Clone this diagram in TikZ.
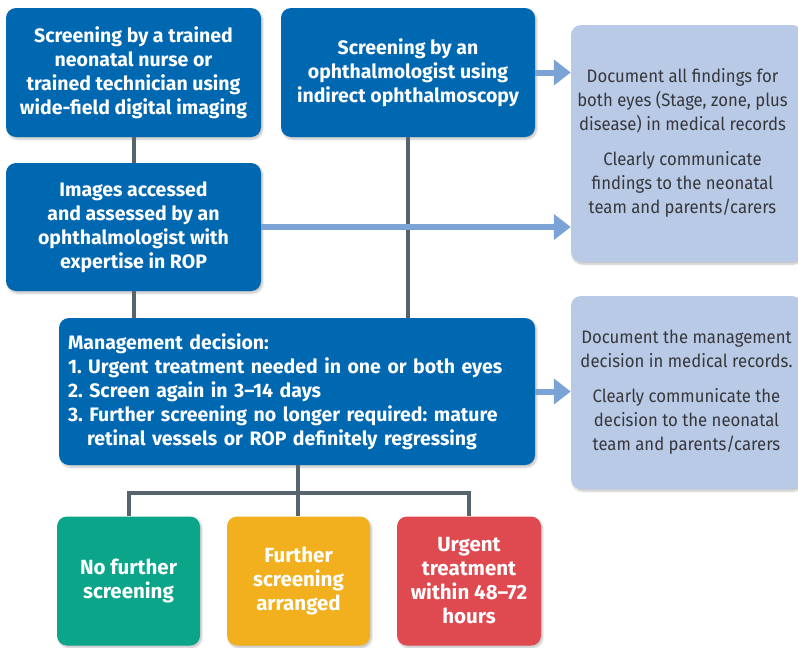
\documentclass[tikz,border=0pt]{standalone}
\usepackage{fontspec}
\setmainfont{Fira Sans}
\newfontfamily\infofont{Fira Sans}[FakeStretch=0.93]
\usetikzlibrary{arrows.meta,shadows.blur}
\definecolor{dblue}{RGB}{0,103,177}
\definecolor{lblue}{RGB}{185,202,230}
\definecolor{ablue}{RGB}{123,163,214}
\definecolor{lgray}{RGB}{86,100,110}
\definecolor{tgreen}{RGB}{11,165,138}
\definecolor{tyellow}{RGB}{242,176,30}
\definecolor{tred}{RGB}{222,74,80}
\definecolor{tdark}{RGB}{55,55,60}
\tikzset{
  boxbase/.style={rounded corners=10pt, inner sep=0pt, align=center,
    blur shadow={shadow xshift=1.5pt, shadow yshift=-2pt, shadow blur steps=6, shadow opacity=25}},
  bluebox/.style={boxbase, fill=dblue, text=white, font=\frenchspacing\bfseries\fontsize{19.5}{24}\selectfont},
  infobox/.style={boxbase, fill=lblue, text=tdark, font=\infofont\fontsize{18}{24}\selectfont},
  outbox/.style={boxbase, text=white, font=\bfseries\fontsize{20.5}{24}\selectfont, minimum width=143pt, minimum height=129pt},
  conn/.style={draw=lgray, line width=4pt},
  bigarrow/.style={draw=ablue, line width=6pt, -{Triangle[width=25pt,length=17pt]}}
}
\begin{document}
\begin{tikzpicture}[x=1pt,y=-1pt]
\useasboundingbox (0,0) rectangle (798,648);
\node[infobox, minimum width=231pt, minimum height=237pt] (E) at (686.5,143.5)
  {\hspace*{-8pt}\begin{tabular}{c}Document all findings for\\ both eyes (Stage, zone, plus\\ disease) in medical records\\[11pt] Clearly communicate\\ findings to the neonatal\\ team and parents/carers\end{tabular}};
\node[infobox, minimum width=231pt, minimum height=193pt] (F) at (686.5,392.5)
  {\begin{tabular}{c}Document the management\\ decision in medical records.\\[11pt] Clearly communicate the\\ decision to the neonatal\\ team and parents/carers\end{tabular}};
\node[bluebox, minimum width=255pt, minimum height=129pt] (A) at (133.5,72.5)
  {Screening by a trained\\ neonatal nurse or\\ trained technician using\\ wide-field digital imaging};
\node[bluebox, minimum width=254pt, minimum height=129pt] (B) at (408,72.5)
  {Screening by an\\ ophthalmologist using\\ indirect ophthalmoscopy};
\node[bluebox, minimum width=255pt, minimum height=128pt] (C) at (133.5,227)
  {Images accessed\\ and assessed by an\\ ophthalmologist with\\ expertise in ROP};
\node[bluebox, minimum width=476pt, minimum height=147pt, text width=458pt, align=left, inner xsep=9pt] (D) at (297,391.5)
  {Management decision:\\ 1. Urgent treatment needed in one or both eyes\\ 2. Screen again in 3--14 days\\ 3. Further screening no longer required: mature\\ \hspace*{19pt}retinal vessels or ROP definitely regressing};
\node[outbox, fill=tgreen] (G) at (128.5,581) {No further\\ screening};
\node[outbox, fill=tyellow] (Y) at (298.5,581) {Further\\ screening\\ arranged};
\node[outbox, fill=tred, minimum width=144pt] (R) at (469,581) {Urgent\\ treatment\\ within 48--72\\ hours};
\coordinate (J) at (298,493);
\draw[conn] (A) -- (C);
\draw[conn] (C) -- (D.north -| C);
\draw[conn] (B) -- (B.south |- D.north);
\draw[conn] (D.south -| J) -- (J);
\draw[conn] (G.north) -- (G.north |- J) -- (R.north |- J) -- (R.north);
\draw[conn] (J) -- (J |- Y.north);
\draw[bigarrow] (B.east) -- (B.east -| E.west);
\draw[bigarrow] (C.east) -- (C.east -| E.west);
\draw[bigarrow] (D.east) -- (D.east -| F.west);
\end{tikzpicture}
\end{document}
